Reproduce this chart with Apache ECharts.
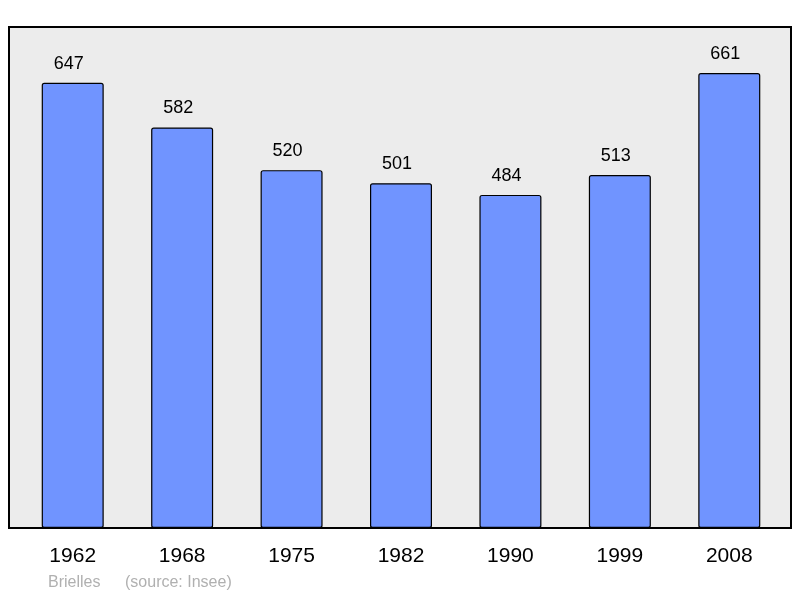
<!DOCTYPE html><html><head><meta charset="utf-8"><script src="https://cdn.jsdelivr.net/npm/echarts@6/dist/echarts.min.js"></script></head><body style="margin:0"><div id="c" style="width:800px;height:598px"></div><script>
var years=['1962','1968','1975','1982','1990','1999','2008'];
var population=[647,582,520,501,484,513,661];
var ch=echarts.init(document.getElementById('c'));
ch.setOption({animation:false,backgroundColor:'#fff',
graphic:[{type:'rect',z:-1,shape:{x:9,y:27,width:782,height:501},style:{fill:'#ececec',stroke:'#000',lineWidth:2}},
{type:'text',left:48,top:575,style:{text:'Brielles',fill:'#b0b0b0',font:'16px Liberation Sans, Arial, sans-serif'}},
{type:'text',left:125,top:575,style:{text:'(source: Insee)',fill:'#b0b0b0',font:'16px Liberation Sans, Arial, sans-serif'}}],
grid:{left:18,right:16,top:27,bottom:70},
xAxis:{type:'category',data:years,axisLine:{show:false},axisTick:{show:false},axisLabel:{fontSize:21,color:'#000',margin:18,fontFamily:'Liberation Sans'}},
yAxis:{type:'value',min:0,max:728,show:false,splitLine:{show:false}},
series:[{type:'bar',data:population,barWidth:62,itemStyle:{color:'#7094ff',borderColor:'#000',borderWidth:1.2,borderRadius:2},
label:{show:true,position:'top',distance:10,offset:[-4,0],fontSize:18,color:'#000',fontFamily:'Liberation Sans'}}]});
</script></body></html>
